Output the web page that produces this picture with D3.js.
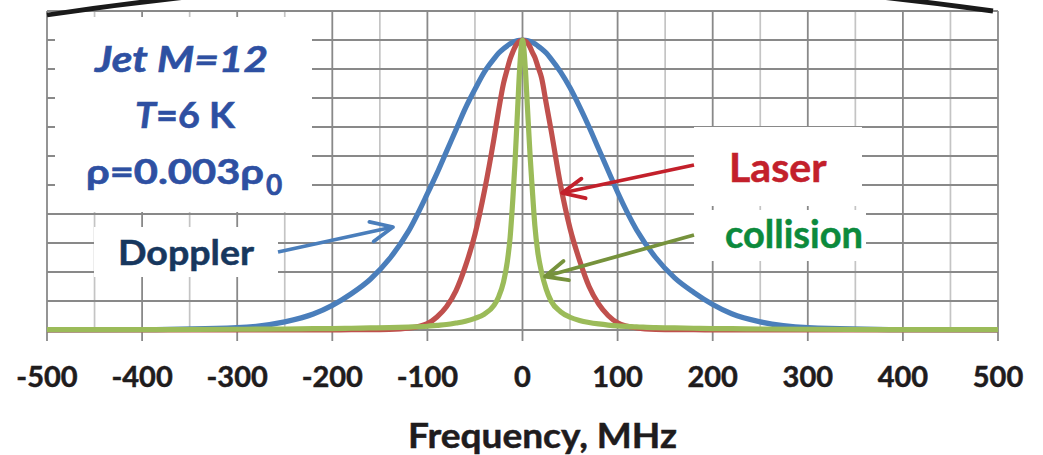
<!DOCTYPE html>
<html><head><meta charset="utf-8">
<script src="https://cdn.jsdelivr.net/npm/d3@7/dist/d3.min.js"></script>
<style>
body{margin:0;background:#fff}
svg{display:block}
text{font-family:Lato,'Open Sans',sans-serif;font-weight:bold}
</style>
</head><body>
<svg id="c" width="1043" height="455"></svg>
<script>
// ---- data ----
const freq = [-500,-400,-300,-250,-220,-200,-180,-160,-140,-120,-100,-90,-80,-70,-60,-50,-40,-30,-25,-20,-16,-13,-10,-8,-5,-3,0,
              3,5,8,10,13,16,20,25,30,40,50,60,70,80,90,100,120,140,160,180,200,220,250,300,400,500];
const doppler = [0,0.001,0.008,0.028,0.055,0.085,0.125,0.175,0.245,0.34,0.47,0.54,0.615,0.69,0.765,0.83,0.89,0.935,0.955,0.97,0.98,0.987,0.992,0.995,0.998,0.999,1,
                 0.999,0.998,0.995,0.992,0.987,0.98,0.97,0.955,0.935,0.89,0.835,0.77,0.70,0.625,0.55,0.475,0.345,0.25,0.18,0.13,0.088,0.056,0.028,0.008,0.001,0];
const laser = [0,0,0,0,0.0003,0.0005,0.001,0.001,0.002,0.006,0.022,0.045,0.08,0.135,0.22,0.33,0.48,0.66,0.76,0.85,0.9,0.935,0.96,0.975,0.99,0.996,1,
               0.996,0.99,0.975,0.96,0.94,0.91,0.87,0.78,0.69,0.5,0.35,0.24,0.15,0.09,0.05,0.025,0.007,0.002,0.001,0.001,0.0005,0.0003,0,0,0,0];
const collision = [0.001,0.0015,0.0025,0.0035,0.0045,0.005,0.006,0.007,0.008,0.01,0.013,0.016,0.019,0.024,0.03,0.04,0.055,0.085,0.115,0.165,0.235,0.32,0.46,0.57,0.77,0.9,1,
                   0.9,0.78,0.6,0.5,0.36,0.27,0.2,0.14,0.1,0.063,0.044,0.033,0.026,0.021,0.017,0.014,0.011,0.008,0.007,0.006,0.005,0.0045,0.0035,0.0025,0.0015,0.001];
const xTicks = [-500,-400,-300,-200,-100,0,100,200,300,400,500];
const xMinor = [-450,-350,-250,-150,-50,50,150,250,350,450];
const yGrid = [0,0.1,0.2,0.3,0.4,0.5,0.6,0.7,0.8,0.9,1.0,1.1];
const xTitle = "Frequency, MHz";
const seriesNames = ["Doppler","Laser","collision"];
const seriesColors = ["#4a7ebb","#c0504d","#9bbb59"];

// ---- drawing ----
const svg = d3.select("#c");
svg.append("rect").attr("width",1043).attr("height",455).attr("fill","#fff");
const x = d3.scaleLinear().domain([-500,500]).range([47,998]);
const y = d3.scaleLinear().domain([0,1.1]).range([330,11]);

const grid = svg.append("g");
grid.selectAll(".mn").data(xMinor).join("line")
  .attr("x1",d=>x(d)).attr("x2",d=>x(d)).attr("y1",y(1.1)).attr("y2",y(0))
  .attr("stroke","#c4c4c4").attr("stroke-width",1.7);
grid.selectAll(".hz").data(yGrid).join("line")
  .attr("x1",x(-500)).attr("x2",x(500)).attr("y1",d=>y(d)).attr("y2",d=>y(d))
  .attr("stroke","#898989").attr("stroke-width",1.8);
grid.selectAll(".mj").data(xTicks).join("line")
  .attr("x1",d=>x(d)).attr("x2",d=>x(d)).attr("y1",y(1.1)).attr("y2",y(0)+11)
  .attr("stroke","#898989").attr("stroke-width",1.8);

// white annotation boxes
const boxes = [[55,17,257,195],[94,227,184,50],[694,127,168,79],[694,210,172,51]];
svg.selectAll(".box").data(boxes).join("rect")
  .attr("x",d=>d[0]).attr("y",d=>d[1]).attr("width",d=>d[2]).attr("height",d=>d[3]).attr("fill","#fff");

// curves
const line = d3.line().x((d,i)=>x(freq[i])).y(d=>y(d)).curve(d3.curveMonotoneX);
[doppler,laser,collision].forEach((s,k)=>{
  svg.append("path").attr("d",line(s)).attr("fill","none")
    .attr("stroke",seriesColors[k]).attr("stroke-width",5.2)
    .attr("stroke-linejoin","round").attr("stroke-linecap","butt");
});

// axis labels
svg.append("g").selectAll("text").data(xTicks).join("text")
  .attr("x",d=>x(d)).attr("y",387).attr("text-anchor","middle")
  .attr("font-size",29).attr("fill","#1f1c1d").attr("stroke","#1f1c1d").attr("stroke-width",0.5).text(d=>d);
svg.append("text").attr("x",408).attr("y",448).attr("font-size",35)
  .attr("fill","#1f1c1d").attr("stroke","#1f1c1d").attr("stroke-width",0.5)
  .attr("textLength",269).attr("lengthAdjust","spacingAndGlyphs").text(xTitle);

// arrows
const defs = svg.append("defs");
const arrowColors = ["#4a7ebb","#c3202b","#76923c"];
arrowColors.forEach((c,i)=>{
  defs.append("marker").attr("id","ah"+i).attr("markerUnits","userSpaceOnUse")
    .attr("markerWidth",40).attr("markerHeight",40).attr("refX",0).attr("refY",0)
    .attr("viewBox","-30 -20 40 40").attr("orient","auto")
    .append("path").attr("d","M-22,-10L0,0L-22,10").attr("fill","none")
    .attr("stroke",c).attr("stroke-width",3.8).attr("stroke-linecap","round").attr("stroke-linejoin","round");
});
const arrows = [[278,252,393,227],[694,165,562,193],[694,235,545,276.5]];
arrows.forEach((a,i)=>{
  svg.append("line").attr("x1",a[0]).attr("y1",a[1]).attr("x2",a[2]).attr("y2",a[3])
    .attr("stroke",arrowColors[i]).attr("stroke-width",3.8).attr("marker-end","url(#ah"+i+")");
});

// annotation texts
const tc = "#2e50a2";
svg.append("text").attr("x",95).attr("y",72).attr("font-size",37).attr("font-style","italic")
  .attr("fill",tc).attr("stroke",tc).attr("stroke-width",0.6)
  .attr("textLength",173).attr("lengthAdjust","spacingAndGlyphs").text("Jet M=12");
const t2 = svg.append("text").attr("x",135).attr("y",128).attr("font-size",37).attr("fill",tc)
  .attr("stroke",tc).attr("stroke-width",0.6)
  .attr("textLength",100).attr("lengthAdjust","spacingAndGlyphs");
t2.append("tspan").attr("font-style","italic").text("T");
t2.append("tspan").text("=6 K");
const t3 = svg.append("text").attr("x",86).attr("y",184).attr("font-size",34).attr("fill",tc)
  .attr("stroke",tc).attr("stroke-width",0.6);
t3.append("tspan").attr("textLength",178).attr("lengthAdjust","spacingAndGlyphs").text("ρ=0.003ρ");
t3.append("tspan").attr("x",266).attr("dy",11).attr("font-size",28).text("0");

svg.append("text").attr("x",118).attr("y",264.5).attr("font-size",34).attr("fill","#17375e")
  .attr("stroke","#17375e").attr("stroke-width",0.5)
  .attr("textLength",136).attr("lengthAdjust","spacingAndGlyphs").text(seriesNames[0]);
svg.append("text").attr("x",729).attr("y",181.7).attr("font-size",40).attr("fill","#c3202b")
  .attr("stroke","#c3202b").attr("stroke-width",0.5)
  .attr("textLength",97.5).attr("lengthAdjust","spacingAndGlyphs").text(seriesNames[1]);
svg.append("text").attr("x",725).attr("y",248.3).attr("font-size",39).attr("fill","#0c8a3c")
  .attr("stroke","#0c8a3c").attr("stroke-width",0.5)
  .attr("textLength",138).attr("lengthAdjust","spacingAndGlyphs").text(seriesNames[2]);

// black frame arc at the top (cropped)
svg.append("path").attr("d","M47,15 Q520,-56 993,11").attr("fill","none")
  .attr("stroke","#1a1a1a").attr("stroke-width",4.8);
</script>
</body></html>
